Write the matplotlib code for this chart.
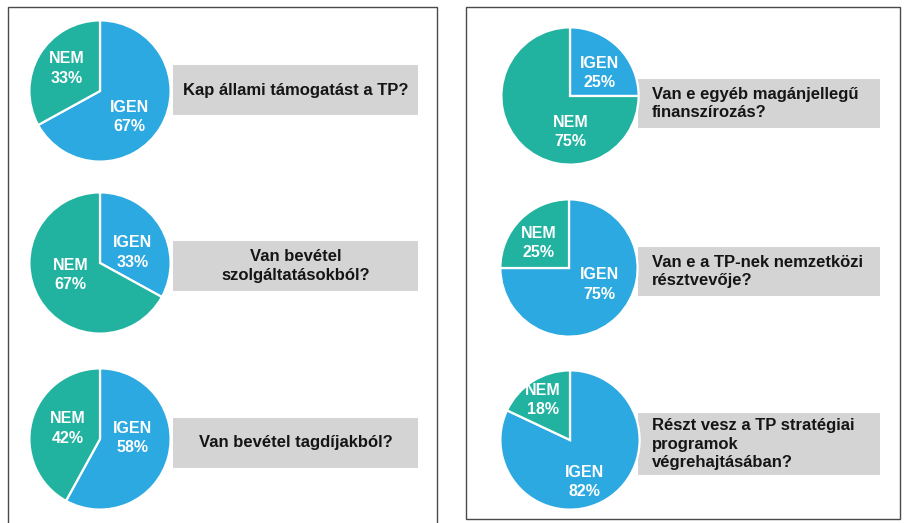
import matplotlib
matplotlib.use("Agg")
import matplotlib.pyplot as plt
from matplotlib.patches import Rectangle

plt.rcParams['font.family'] = ['Liberation Sans', 'DejaVu Sans']

# ---- data ----
questions = [
    "Kap állami támogatást a TP?",
    "Van bevétel\nszolgáltatásokból?",
    "Van bevétel tagdíjakból?",
    "Van e egyéb magánjellegű\nfinanszírozás?",
    "Van e a TP-nek nemzetközi\nrésztvevője?",
    "Részt vesz a TP stratégiai\nprogramok\nvégrehajtásában?",
]
categories = ["IGEN", "NEM"]
igen_pct = [67, 33, 58, 25, 75, 82]
nem_pct = [33, 67, 42, 75, 25, 18]

# ---- layout (pixels, from top-left) ----
W, H = 906, 523
pie_geom = [(100, 91, 72), (100, 263, 72), (100, 439, 72),
            (570, 96, 70), (569, 268, 70), (570, 440, 71)]
box_geom = [(173, 65, 418, 115), (173, 241, 418, 291), (173, 418, 418, 468),
            (638, 79, 880, 128), (638, 247, 880, 296), (638, 413, 880, 475)]
text_align = ["center", "center", "center", "left", "left", "left"]
# label offsets (in pie radius units) for IGEN, NEM
label_pos = [((0.42, -0.37), (-0.47, 0.32)),
             ((0.46, 0.15), (-0.42, -0.17)),
             ((0.46, 0.01), (-0.46, 0.15)),
             ((0.43, 0.34), (0.01, -0.53)),
             ((0.44, -0.24), (-0.44, 0.37)),
             ((0.21, -0.60), (-0.39, 0.57))]

blue = "#2da9e1"
teal = "#21b3a0"
gray = "#d4d4d4"

fig = plt.figure(figsize=(W / 100, H / 100), dpi=100)
fig.patch.set_facecolor("white")

def fx(x):
    return x / W

def fy(y):
    return 1 - y / H

# panel borders
for (x0, y0, x1, y1) in [(8, 7, 437, 530), (466, 7, 900, 519)]:
    fig.add_artist(Rectangle((fx(x0), fy(y1)), fx(x1) - fx(x0), fy(y0) - fy(y1),
                             transform=fig.transFigure, fill=False,
                             edgecolor="#4a4a4a", linewidth=1.0, zorder=-2))

for i in range(6):
    cx, cy, r = pie_geom[i]
    ax = fig.add_axes([fx(cx - r), fy(cy + r), 2 * r / W, 2 * r / H])
    ax.set_zorder(2)
    ax.pie([igen_pct[i], nem_pct[i]], colors=[blue, teal], startangle=90,
           counterclock=False, radius=1.0,
           wedgeprops=dict(edgecolor="white", linewidth=1.6))
    ax.set_xlim(-1.02, 1.02)
    ax.set_ylim(-1.02, 1.02)
    ax.set_aspect("equal")
    ax.axis("off")
    vals = [igen_pct[i], nem_pct[i]]
    for j, cat in enumerate(categories):
        px, py = label_pos[i][j]
        ax.text(px, py, f"{cat}\n{vals[j]}%", ha="center", va="center",
                color="white", fontsize=11.5, fontweight="bold", linespacing=1.35)

    x0, y0, x1, y1 = box_geom[i]
    fig.add_artist(Rectangle((fx(x0), fy(y1)), fx(x1) - fx(x0), fy(y0) - fy(y1),
                             transform=fig.transFigure, facecolor=gray,
                             edgecolor="none", zorder=-1))
    if text_align[i] == "center":
        tx = fx((x0 + x1) / 2)
    else:
        tx = fx(x0 + 14)
    fig.text(tx, fy((y0 + y1) / 2), questions[i], ha=text_align[i], va="center",
             color="#151515", fontsize=12.0, fontweight="bold", linespacing=1.3,
             zorder=3)

fig.savefig("out.png", dpi=100, facecolor="white")
